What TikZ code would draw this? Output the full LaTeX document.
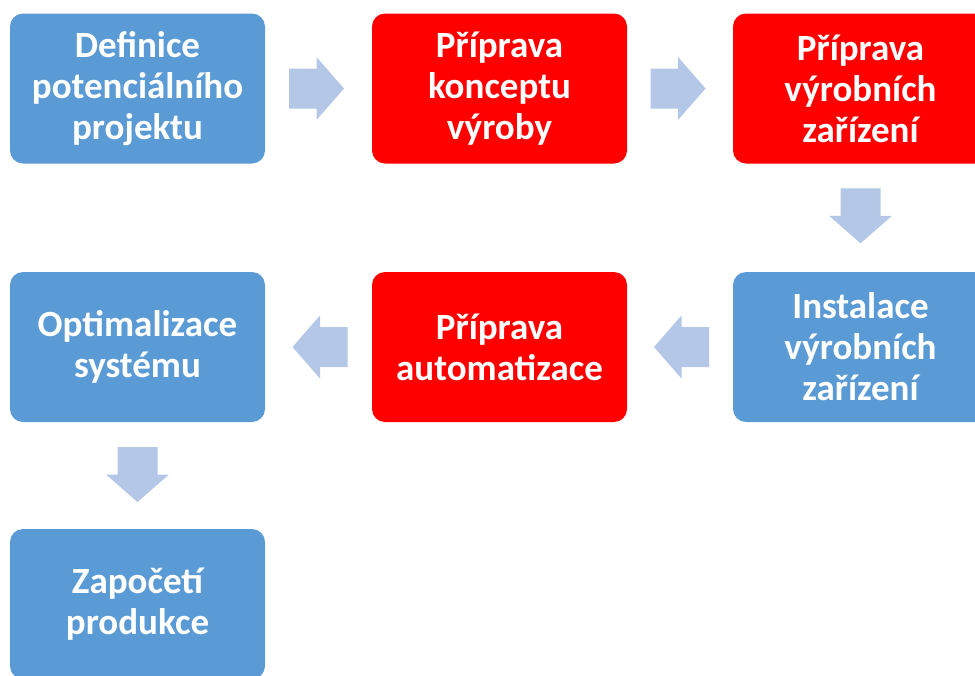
\documentclass[tikz,border=0pt]{standalone}
\usepackage{fontspec}
\setmainfont{Carlito}
\usetikzlibrary{calc}

\definecolor{stepblue}{HTML}{5B9BD5}
\definecolor{stepred}{HTML}{FF0000}
\definecolor{arrowblue}{HTML}{B4C7E7}

\tikzset{
  stepbox/.style={rounded corners=13pt, minimum width=255pt, minimum height=150pt,
    inner sep=0pt, align=center, text=white,
    font=\fontsize{37}{41}\selectfont\bfseries},
  bluebox/.style={stepbox, fill=stepblue},
  redbox/.style={stepbox, fill=stepred},
  flowarrow/.pic={
    \fill[arrowblue] (-27.5,20) -- (0,20) -- (0,31.5) -- (27.5,0)
      -- (0,-31.5) -- (0,-20) -- (-27.5,-20) -- cycle;
  }
}

\begin{document}
\begin{tikzpicture}[x=1pt, y=-1pt]
  \useasboundingbox (0,0) rectangle (975,675);
  \clip (0,0) rectangle (975,675);

  % process steps
  \node[bluebox] (def)  at (137.5,88.5) {Definice\\potenciálního\\projektu};
  \node[redbox]  (konc) at (499.5,88.5) {Příprava\\konceptu\\výroby};
  \node[redbox]  (zar)  at (860.5,88.5) {Příprava\\výrobních\\zařízení};
  \node[bluebox] (inst) at (860.5,347) {Instalace\\výrobních\\zařízení};
  \node[redbox]  (aut)  at (499.5,347) {Příprava\\automatizace};
  \node[bluebox] (opt)  at (137.5,347) {Optimalizace\\systému};
  \node[bluebox] (prod) at (137.5,604) {Započetí\\produkce};

  % block arrows between the steps
  \pic at ($(def.east)!0.5!(konc.west)+(-2,0)$) {flowarrow};
  \pic at ($(konc.east)!0.5!(zar.west)+(-2,0)$) {flowarrow};
  \pic[rotate=-90] at ($(zar.south)!0.5!(inst.north)+(0,-2)$) {flowarrow};
  \pic[rotate=180] at ($(inst.west)!0.5!(aut.east)+(1.5,0)$) {flowarrow};
  \pic[rotate=180] at ($(aut.west)!0.5!(opt.east)+(1.5,0)$) {flowarrow};
  \pic[rotate=-90] at ($(opt.south)!0.5!(prod.north)+(0,-1)$) {flowarrow};
\end{tikzpicture}
\end{document}
